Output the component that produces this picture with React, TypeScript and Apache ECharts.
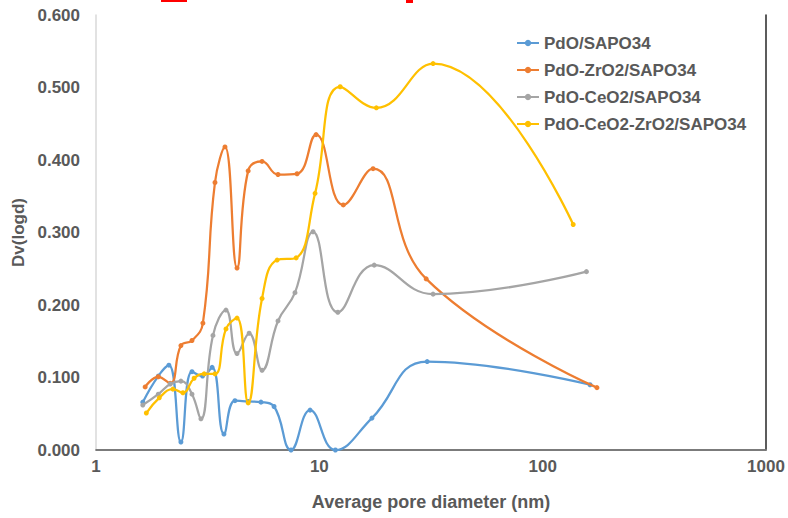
import React, { useEffect, useRef } from "react";
import * as echarts from "echarts";

const seriesNames = ["PdO/SAPO34", "PdO-ZrO2/SAPO34", "PdO-CeO2/SAPO34", "PdO-CeO2-ZrO2/SAPO34"];
const colors = ["#5B9BD5", "#ED7D31", "#A5A5A5", "#FFC000"];

const pdoX = [1.62, 1.9, 2.12, 2.4, 2.69, 3.0, 3.31, 3.74, 4.19, 4.8, 5.48, 6.27, 7.47, 9.09, 11.8, 17.2, 30.4, 163];
const pdoY = [0.066, 0.102, 0.117, 0.011, 0.108, 0.102, 0.114, 0.022, 0.068, 0.067, 0.066, 0.06, 0.0, 0.055, 0.0, 0.044, 0.122, 0.09];

const zrX = [1.66, 1.9, 2.15, 2.4, 2.69, 3.01, 3.41, 3.78, 4.28, 4.8, 5.54, 6.53, 7.95, 9.67, 12.8, 17.4, 30.1, 175];
const zrY = [0.087, 0.101, 0.092, 0.144, 0.151, 0.175, 0.369, 0.418, 0.251, 0.385, 0.398, 0.38, 0.381, 0.435, 0.338, 0.388, 0.236, 0.086];

const ceX = [1.62, 1.9, 2.15, 2.4, 2.69, 2.95, 3.34, 3.82, 4.28, 4.85, 5.54, 6.53, 7.78, 9.37, 12.1, 17.6, 32.3, 157];
const ceY = [0.062, 0.077, 0.091, 0.095, 0.077, 0.043, 0.158, 0.193, 0.133, 0.161, 0.11, 0.178, 0.217, 0.301, 0.19, 0.255, 0.215, 0.246];

const ceZrX = [1.68, 1.92, 2.21, 2.45, 2.75, 3.05, 3.41, 3.82, 4.28, 4.8, 5.54, 6.47, 7.87, 9.57, 12.4, 18.0, 32.3, 137];
const ceZrY = [0.051, 0.072, 0.084, 0.079, 0.099, 0.105, 0.105, 0.167, 0.182, 0.065, 0.209, 0.262, 0.265, 0.354, 0.501, 0.472, 0.533, 0.311];

const xTicks = [1, 10, 100, 1000];
const xTitle = "Average pore diameter (nm)";
const yTitle = "Dv(logd)";

const allX = [pdoX, zrX, ceX, ceZrX];
const allY = [pdoY, zrY, ceY, ceZrY];

const FONT = "'Liberation Sans', Arial, sans-serif";
const TEXT = "#595959";

export default function App() {
  const ref = useRef<HTMLDivElement>(null);
  useEffect(() => {
    if (!ref.current) return;
    const chart = echarts.init(ref.current, null, { renderer: "svg" });
    const series = seriesNames.map((name, i) => ({
      name,
      type: "line",
      data: allX[i].map((x, j) => [x, allY[i][j]]),
      smooth: 0.45,
      symbol: "circle",
      symbolSize: 5,
      lineStyle: { width: 2.25, color: colors[i] },
      itemStyle: { color: colors[i] },
      z: 2 + i,
    }));
    chart.setOption({
      animation: false,
      textStyle: { fontFamily: FONT },
      grid: { left: 96, right: 22, top: 15, bottom: 68 },
      legend: {
        orient: "vertical",
        left: 516,
        top: 33,
        padding: 0,
        itemWidth: 22,
        itemHeight: 8,
        itemGap: 7,
        data: seriesNames,
        textStyle: { color: TEXT, fontSize: 17, fontWeight: "bold", fontFamily: FONT, lineHeight: 20 },
      },
      xAxis: [
        {
          type: "log",
          logBase: 10,
          min: 1,
          max: 1000,
          name: xTitle,
          nameLocation: "middle",
          nameGap: 43,
          nameTextStyle: { color: TEXT, fontSize: 18, fontWeight: "bold", fontFamily: FONT },
          axisLine: { lineStyle: { color: "#D9D9D9", width: 1.5 } },
          axisTick: { show: false },
          splitLine: { show: false },
          minorTick: { show: false },
          axisLabel: {
            color: TEXT,
            fontSize: 17,
            fontWeight: "bold",
            margin: 8,
            formatter: (v: number) => {
              const r = xTicks.find((t) => Math.abs(t - v) / t < 1e-6);
              return r !== undefined ? String(r) : "";
            },
          },
        },
        {
          type: "log",
          logBase: 10,
          min: 1,
          max: 1000,
          position: "top",
          axisLine: { lineStyle: { color: "#595959", width: 1.5 } },
          axisTick: { show: false },
          axisLabel: { show: false },
          splitLine: { show: false },
        },
      ],
      yAxis: [
        {
          type: "value",
          min: 0,
          max: 0.6,
          interval: 0.1,
          name: yTitle,
          nameLocation: "middle",
          nameRotate: 90,
          nameGap: 69,
          nameTextStyle: { color: TEXT, fontSize: 17, fontWeight: "bold", fontFamily: FONT },
          axisLine: { show: true, lineStyle: { color: "#D9D9D9", width: 1.5 } },
          axisTick: { show: false },
          splitLine: { show: false },
          axisLabel: {
            color: TEXT,
            fontSize: 17,
            fontWeight: "bold",
            margin: 16,
            formatter: (v: number) => v.toFixed(3),
          },
        },
        {
          type: "value",
          min: 0,
          max: 0.6,
          interval: 0.1,
          position: "right",
          axisLine: { show: true, lineStyle: { color: "#262626", width: 1.5 } },
          axisTick: { show: false },
          axisLabel: { show: false },
          splitLine: { show: false },
        },
      ],
      graphic: [
        { type: "rect", left: 161, top: 0, shape: { width: 26, height: 2 }, style: { fill: "#FF0000" } },
        { type: "rect", left: 406, top: 0, shape: { width: 7, height: 3 }, style: { fill: "#FF0000" } },
      ],
      series,
    });
    return () => chart.dispose();
  }, []);
  return <div ref={ref} style={{ width: 788, height: 518, position: "absolute", left: 0, top: 0, background: "#fff" }} />;
}
